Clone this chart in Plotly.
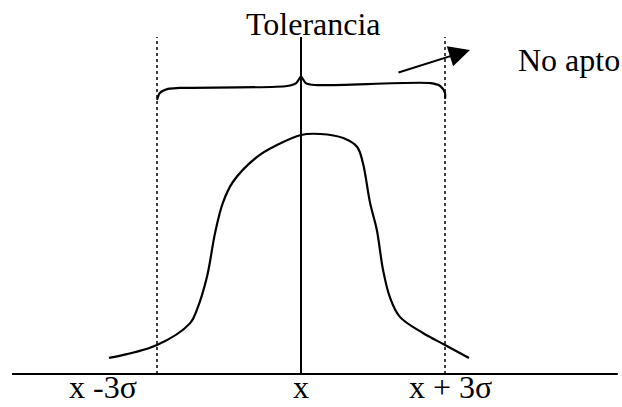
import plotly.graph_objects as go

# Process distribution, x in sigma units around the mean, y relative frequency
curve_x = [-4.0, -3.0, -2.31, -2.17, -1.96, -1.79, -1.63, -1.42, -0.92, -0.5, 0.0,
           0.4, 0.88, 1.17, 1.29, 1.44, 1.58, 1.71, 1.85, 2.06, 2.54, 3.0, 3.5]
curve_y = [0.067, 0.121, 0.212, 0.267, 0.404, 0.588, 0.712, 0.8, 0.904, 0.954, 0.996,
           1.0, 0.983, 0.946, 0.879, 0.712, 0.6, 0.433, 0.321, 0.238, 0.171, 0.121, 0.067]

# Tolerance brace spanning the +/- 3 sigma limits
brace_x = [-3.0, -2.94, -2.77, -2.52, -0.29, -0.10, 0.0, 0.10, 0.29, 2.7, 2.9, 3.0, 3.0]
brace_y = [1.142, 1.171, 1.188, 1.192, 1.2, 1.212, 1.238, 1.212, 1.204, 1.212, 1.2, 1.171, 1.146]

limits = [-3.0, 3.0]
guide_top = 1.404
axis_span = [-6.02, 6.6]

labels = ["x -3σ", "x", "x + 3σ"]
label_x = [-4.12, 0.0, 3.12]

serif = "Liberation Serif"
ink = "black"
fsize = 32

fig = go.Figure()

# base axis
fig.add_trace(go.Scatter(x=axis_span, y=[0, 0], mode="lines",
                         line=dict(color=ink, width=2), hoverinfo="skip"))
# mean line
fig.add_trace(go.Scatter(x=[0, 0], y=[0, guide_top], mode="lines",
                         line=dict(color=ink, width=2), hoverinfo="skip"))
# dotted limit lines
for lx in limits:
    fig.add_trace(go.Scatter(x=[lx, lx], y=[0, guide_top], mode="lines",
                             line=dict(color=ink, width=1.5, dash="dot"), hoverinfo="skip"))
# distribution curve
fig.add_trace(go.Scatter(x=curve_x, y=curve_y, mode="lines",
                         line=dict(color=ink, width=2.2, shape="spline", smoothing=1.0),
                         hoverinfo="skip"))
# brace
fig.add_trace(go.Scatter(x=brace_x, y=brace_y, mode="lines",
                         line=dict(color=ink, width=2.2, shape="spline", smoothing=0.8),
                         hoverinfo="skip"))

# labels under the axis
for txt, lx in zip(labels, label_x):
    fig.add_annotation(x=lx, y=-0.1375, text=txt, showarrow=False,
                       font=dict(family=serif, size=fsize, color=ink),
                       xanchor="center", yanchor="bottom")

fig.add_annotation(x=0.27, y=1.46, text="Tolerancia", showarrow=False,
                   font=dict(family=serif, size=fsize, color=ink),
                   xanchor="center", yanchor="middle")
fig.add_annotation(x=5.58, y=1.31, text="No apto", showarrow=False,
                   font=dict(family=serif, size=fsize, color=ink),
                   xanchor="center", yanchor="middle")

# arrow pointing toward the out-of-tolerance zone
fig.add_annotation(x=3.52, y=1.35, ax=2.0, ay=1.254, xref="x", yref="y",
                   axref="x", ayref="y", text="", showarrow=True,
                   arrowhead=2, arrowsize=2.1, arrowwidth=2, arrowcolor=ink)

fig.update_layout(
    width=622, height=407,
    margin=dict(l=0, r=0, t=0, b=0),
    paper_bgcolor="white", plot_bgcolor="white",
    showlegend=False,
    font=dict(family=serif),
    xaxis=dict(range=[-6.271, 6.6875], visible=False, fixedrange=True),
    yaxis=dict(range=[-0.1375, 1.5583], visible=False, fixedrange=True),
)

fig.write_html("out.html")
